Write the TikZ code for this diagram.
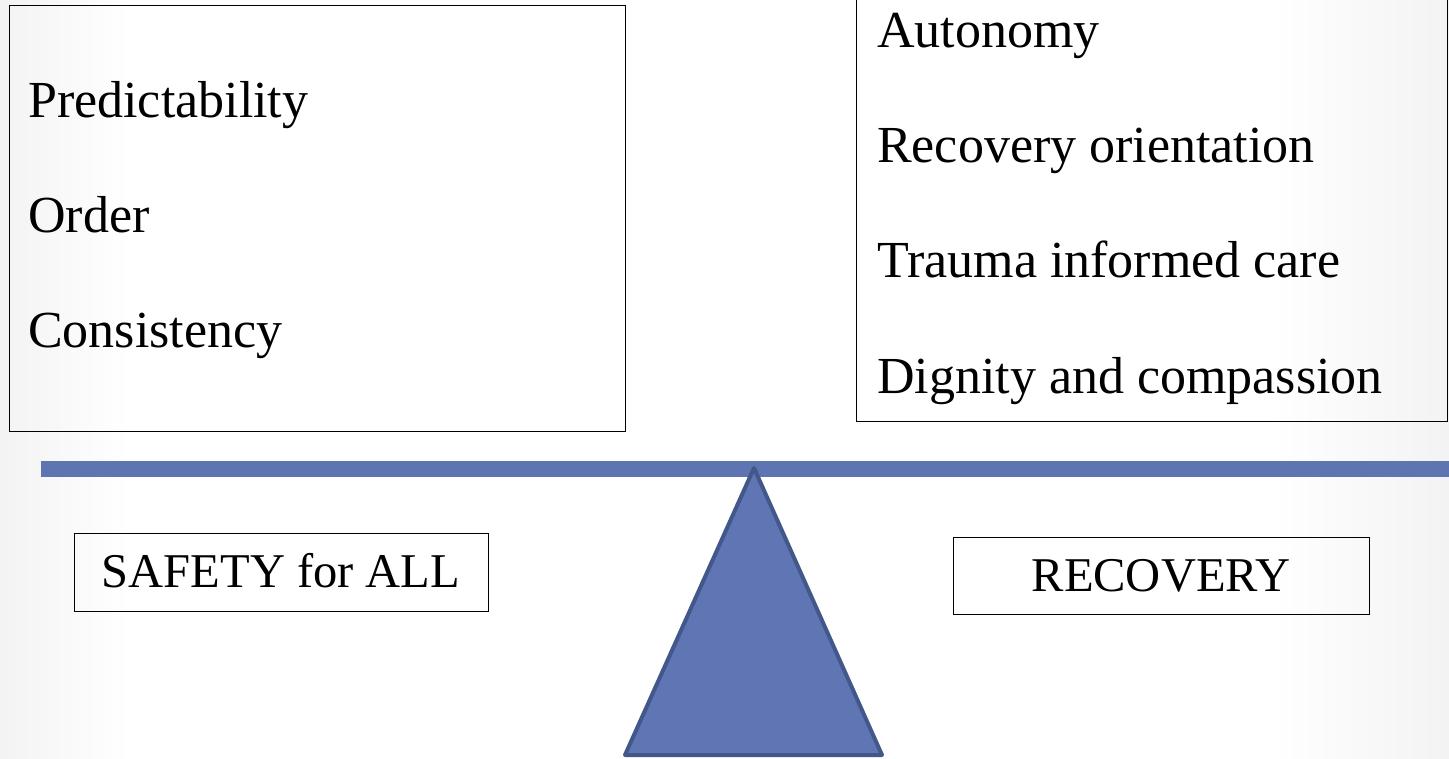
\documentclass[tikz,border=0pt]{standalone}
\usepackage{fontspec}
\setmainfont{Liberation Serif}
\definecolor{barblue}{RGB}{94,117,178}
\definecolor{trifill}{RGB}{96,118,180}
\definecolor{triedge}{RGB}{66,87,138}
\definecolor{bgedge}{RGB}{243,243,243}
\begin{document}
\begin{tikzpicture}[x=1pt,y=-1pt,
  box/.style={draw=black,line width=1.3pt,inner sep=0pt,anchor=north west},
  txt/.style={inner sep=0pt,anchor=base west,font=\fontsize{52}{60}\selectfont},
  lbl/.style={inner sep=0pt,anchor=base,font=\fontsize{48.5}{56}\selectfont}]
\useasboundingbox (0,0) rectangle (1449,759);
% background
\fill[white] (0,0) rectangle (1449,759);
\shade[left color=bgedge,right color=white] (0,0) rectangle (130,759);
\shade[left color=white,right color=bgedge] (1270,0) rectangle (1449,759);
% left box
\node[box,minimum width=616pt,minimum height=426pt] (lbox) at (9,5) {};
\node[txt] (t1) at (28,118) {Predictability};
\node[txt] (t2) at (28,233) {Order};
\node[txt] (t3) at (28,348) {Consistency};
% right box
\node[box,minimum width=591pt,minimum height=432pt] (rbox) at (856,-11) {};
\node[txt] (r1) at (877,48) {Autonomy};
\node[txt] (r2) at (877,163) {Recovery orientation};
\node[txt] (r3) at (877,278) {Trauma informed care};
\node[txt] (r4) at (877,393) {Dignity and compassion};
% beam
\fill[barblue] (41,461) rectangle (1449,477);
% fulcrum
\filldraw[fill=trifill,draw=triedge,line width=4pt,line join=round] (625,755) -- (754,468) -- (882,755) -- cycle;
% bottom boxes
\node[box,minimum width=414pt,minimum height=78pt] (sbox) at (74,533) {};
\node[lbl] (s1) at (281,587) {SAFETY for ALL};
\node[box,minimum width=416pt,minimum height=77pt] (cbox) at (953,537) {};
\node[lbl] (c1) at (1161,591) {RECOVERY};
\end{tikzpicture}
\end{document}
